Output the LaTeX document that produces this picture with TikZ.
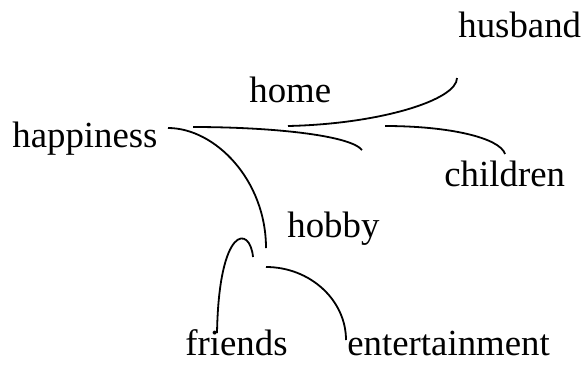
\documentclass[tikz,border=0pt]{standalone}
\usepackage{fontspec}
\setmainfont{Liberation Serif}
\usepackage{tikz}

\begin{document}
\begin{tikzpicture}[x=0.5pt,y=-0.5pt,
  word/.style={anchor=base west,inner sep=0pt,font=\fontsize{18.4}{20}\selectfont},
  arc/.style={line width=0.9pt}]
\useasboundingbox (0,0) rectangle (583,365);
\node [word] (husband) at (458,37) {husband};
\node [word] (home) at (249,102) {home};
\node [word] (happiness) at (12,147) {happiness};
\node [word] (children) at (444,186) {children};
\node [word] (hobby) at (287,237) {hobby};
\node [word] (friends) at (185,355) {friends};
\node [word] (entertainment) at (347,355) {entertainment};
\coordinate (hapA) at (168,128);
\coordinate (hapB) at (266,248);
\coordinate (homA) at (193,127);
\coordinate (homB) at (362,150);
\coordinate (husA) at (288,126);
\coordinate (husB) at (457,78);
\coordinate (chiA) at (385,126);
\coordinate (chiB) at (505,154);
\coordinate (friA) at (217,333);
\coordinate (friB) at (253,257);
\coordinate (entA) at (266,267);
\coordinate (entB) at (346,340);
\draw [arc] (hapA) .. controls (215,128) and (266,180) .. (hapB);
\draw [arc] (homA) .. controls (270,127) and (350,135) .. (homB);
\draw [arc] (husA) .. controls (380,124) and (457,100) .. (husB);
\draw [arc] (chiA) .. controls (450,126) and (500,138) .. (chiB);
\draw [arc] (friA) .. controls (219,225) and (250,225) .. (friB);
\draw [arc] (entA) .. controls (310,267) and (346,300) .. (entB);
\end{tikzpicture}
\end{document}
